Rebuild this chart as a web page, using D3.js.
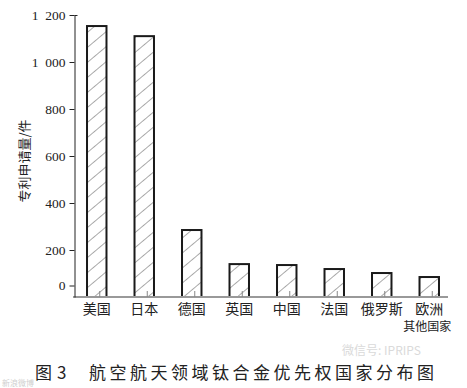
<!DOCTYPE html>
<html>
<head>
<meta charset="utf-8">
<script src="https://cdn.jsdelivr.net/npm/d3@7"></script>
<style>
  body { margin: 0; background: #fff; }
  svg { display: block; }
  .y.axis text { font-family: "Liberation Serif", "DejaVu Serif", serif; font-size: 13.5px; fill: #222; }
  .y.axis line, .y.axis path { stroke: #222; }
  .x.axis line { stroke: #888; }
  .x.axis text { font-family: "Noto Sans CJK SC", sans-serif; font-size: 14px; fill: #222; }
  .caption { font-family: "Noto Sans CJK SC", serif; font-size: 17px; fill: #222; }
</style>
</head>
<body>
<div id="bar-chart"></div>
<script>
var categories = ["美国", "日本", "德国", "英国", "中国", "法国", "俄罗斯", "欧洲\n其他国家"];
var patents = [1153, 1110, 285, 140, 136, 119, 102, 85];
var tickValues = [0, 200, 400, 600, 800, 1000, 1200];

var data = categories.map((name, i) => ({ name, value: patents[i] }));

var width = 467;
var height = 388;

var svg = d3.select("#bar-chart")
  .append("svg")
  .attr("width", width)
  .attr("height", height);

// hatch fill for bars ("/" lines)
svg.append("defs")
  .append("pattern")
  .attr("id", "hatch")
  .attr("patternUnits", "userSpaceOnUse")
  .attr("width", 11.5)
  .attr("height", 11.5)
  .attr("patternTransform", "rotate(50)")
  .append("line")
  .attr("x1", 0).attr("y1", 0)
  .attr("x2", 0).attr("y2", 11.5)
  .attr("stroke", "#444")
  .attr("stroke-width", 0.9);

var xScale = d3.scaleBand()
  .domain(categories)
  .range([73, 453])
  .paddingInner(0.59)
  .paddingOuter(0.295);

var yScale = d3.scaleLinear()
  .domain([0, 1200])
  .range([297, 15]);

var fmt = d => d3.format(",")(d).replace(",", "\u2002");

// bars
svg.append("g")
  .attr("class", "bars")
  .selectAll("rect")
  .data(data)
  .enter()
  .append("rect")
  .attr("x", d => xScale(d.name))
  .attr("y", d => yScale(d.value))
  .attr("width", xScale.bandwidth())
  .attr("height", d => yScale(0) - yScale(d.value))
  .attr("fill", "url(#hatch)")
  .attr("stroke", "#1a1a1a")
  .attr("stroke-width", 2);

// baseline
svg.append("line")
  .attr("x1", 73)
  .attr("x2", 448)
  .attr("y1", yScale(0))
  .attr("y2", yScale(0))
  .attr("stroke", "#999")
  .attr("stroke-width", 2);

// x axis: small inward ticks and labels
var xAxis = svg.append("g")
  .attr("class", "x axis")
  .attr("transform", `translate(0,${yScale(0)})`)
  .call(d3.axisBottom(xScale).tickSizeInner(-6).tickSizeOuter(0).tickPadding(6).tickFormat(""));
xAxis.select(".domain").remove();
xAxis.selectAll(".tick line").attr("transform", "translate(3,0)");

xAxis.selectAll(".tick").each(function(d) {
  var lines = d.split("\n");
  var t = d3.select(this).select("text").attr("dy", null).attr("y", 17);
  t.append("tspan").attr("x", 0).text(lines[0]);
  if (lines[1]) {
    t.append("tspan").attr("x", -2).attr("dy", 17).style("font-size", "12px").text(lines[1]);
  }
});

// y axis
var yAxis = svg.append("g")
  .attr("class", "y axis")
  .attr("transform", "translate(74.5,0)")
  .call(d3.axisLeft(yScale).tickValues(tickValues).tickSize(5).tickSizeOuter(0).tickPadding(4).tickFormat(fmt));

// the zero tick sits above the baseline in the original
yAxis.selectAll(".tick")
  .filter(d => d === 0)
  .attr("transform", `translate(0,${yScale(0) - 11})`);

yAxis.selectAll(".tick")
  .filter(d => d === 1200)
  .append("line")
  .attr("x2", 3)
  .attr("stroke", "#222");

// y title
svg.append("text")
  .attr("transform", "translate(29,161) rotate(-90)")
  .attr("text-anchor", "middle")
  .style("font-family", "'Noto Sans CJK SC', sans-serif")
  .style("font-size", "13px")
  .style("fill", "#222")
  .text("专利申请量/件");

// caption
var fig = svg.append("text")
  .attr("class", "caption")
  .attr("y", 379);
fig.append("tspan").attr("x", 35).text("图");
fig.append("tspan").attr("x", 57).text("3");

svg.append("text")
  .attr("class", "caption")
  .attr("x", 89)
  .attr("y", 379)
  .style("letter-spacing", "3.5px")
  .text("航空航天领域钛合金优先权国家分布图");

// faint watermarks
svg.append("text")
  .attr("x", 342)
  .attr("y", 355)
  .style("font-family", "'Noto Sans CJK SC', sans-serif")
  .style("font-size", "12px")
  .style("fill", "#dadada")
  .text("微信号: IPRIPS");

svg.append("text")
  .attr("x", 2)
  .attr("y", 386)
  .style("font-family", "'Noto Sans CJK SC', sans-serif")
  .style("font-size", "8px")
  .style("fill", "#cfcfcf")
  .text("新浪微博");
</script>
</body>
</html>
